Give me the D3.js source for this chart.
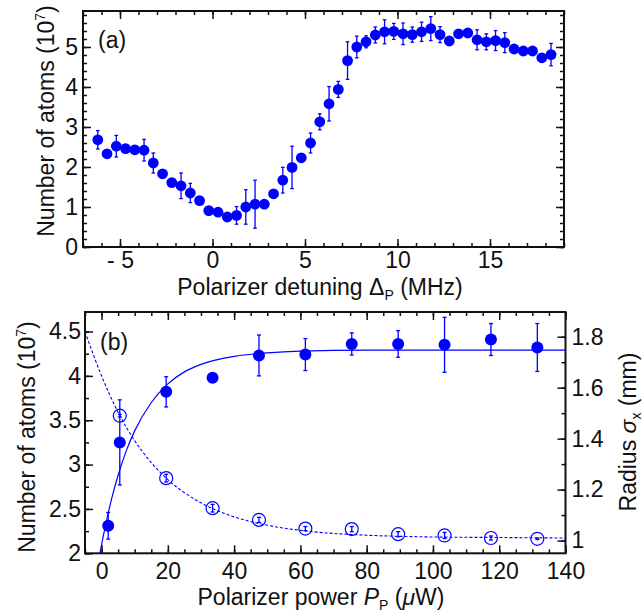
<!DOCTYPE html>
<html>
<head>
<meta charset="UTF-8">
<title></title>
<style>
    body { margin: 0; background: #fff; }
    svg { font-family: "Liberation Sans", Arial, sans-serif; }
    .ax text { font-size: 23px; fill: #111; }
    .ax path.domain { display: none; }
    .ax line { stroke: #111; stroke-width: 1.5; }
    .title { font-size: 23px; fill: #111; }
</style>
</head>
<body>
<svg id="chart" width="644" height="614"></svg>
<script src="https://cdn.jsdelivr.net/npm/d3@7"></script>
<script>

// panel (a): atom number vs polarizer detuning
let detuning = [-6.2, -5.7, -5.2, -4.7, -4.2, -3.7, -3.2, -2.7, -2.2, -1.7,
                -1.2, -0.7, -0.2, 0.3, 0.8, 1.3, 1.8, 2.3, 2.8, 3.3,
                3.8, 4.3, 4.8, 5.3, 5.8, 6.3, 6.8, 7.3, 7.8, 8.3,
                8.8, 9.3, 9.8, 10.3, 10.8, 11.3, 11.8, 12.3, 12.8, 13.3,
                13.8, 14.3, 14.8, 15.3, 15.8, 16.3, 16.8, 17.3, 17.8, 18.3];
let atomsA = [2.68, 2.33, 2.52, 2.46, 2.43, 2.42, 2.10, 1.83, 1.61, 1.53,
              1.35, 1.16, 0.91, 0.87, 0.75, 0.79, 1.00, 1.07, 1.07, 1.33,
              1.67, 1.99, 2.23, 2.60, 3.13, 3.58, 3.94, 4.66, 5.00, 5.13,
              5.30, 5.38, 5.39, 5.33, 5.31, 5.38, 5.46, 5.31, 5.15, 5.33,
              5.35, 5.18, 5.13, 5.16, 5.11, 4.95, 4.90, 4.90, 4.73, 4.81];
let errA = [0.23, 0.05, 0.27, 0.10, 0.10, 0.27, 0.25, 0.05, 0.05, 0.32,
            0.24, 0.05, 0.05, 0.05, 0.05, 0.22, 0.43, 0.60, 0.10, 0.05,
            0.32, 0.53, 0.05, 0.25, 0.20, 0.43, 0.20, 0.47, 0.27, 0.15,
            0.20, 0.30, 0.20, 0.27, 0.19, 0.24, 0.30, 0.20, 0.05, 0.05,
            0.10, 0.25, 0.20, 0.25, 0.25, 0.05, 0.05, 0.05, 0.05, 0.28];

// panel (b): atom number (filled) and radius (open) vs polarizer power
let power = [2, 5.5, 19.5, 33.5, 47.5, 61.5, 75.5, 89.5, 103.5, 117.5, 131.5];
let atomsB = [2.31, 3.25, 3.82, 3.98, 4.23, 4.24, 4.36, 4.36, 4.35, 4.41, 4.32];
let errB = [0.15, 0.48, 0.17, 0, 0.23, 0.18, 0.125, 0.15, 0.31, 0.18, 0.27];
let powerR = [5.5, 19.5, 33.5, 47.5, 61.5, 75.5, 89.5, 103.5, 117.5, 131.5];
let radius = [1.49, 1.245, 1.127, 1.081, 1.047, 1.045, 1.025, 1.02, 1.01, 1.007];
let errR = [0.005, 0.015, 0.015, 0.01, 0.008, 0.01, 0.01, 0.012, 0.008, 0.003];

// fit curves
let fitNP = [-0.5, 1, 3, 5, 7.5, 10, 15, 20, 25, 30, 40, 50, 60, 80, 100, 140];
let fitN = [2.0, 2.28, 2.61, 2.88, 3.16, 3.38, 3.70, 3.91, 4.045, 4.13, 4.22, 4.26, 4.28, 4.29, 4.29, 4.29];
let fitRP = [-5, 0, 5, 10, 15, 20, 25, 30, 40, 50, 60, 70, 80, 100, 120, 140];
let fitR = [1.82, 1.646, 1.503, 1.392, 1.306, 1.239, 1.188, 1.148, 1.093, 1.06, 1.04, 1.028, 1.021, 1.014, 1.012, 1.01];

let blue = "#0000ff";
let fmt = d3.format("~g");
let svg = d3.select("#chart");

// draw ticks pointing inwards on all four sides
function frame(g, x, y, xMaj, xMin, yMaj, yMin, opt) {
    let w = x.range()[1] - x.range()[0];
    let h = y.range()[0] - y.range()[1];
    let big = 8, small = 4;

    g.append("g").attr("class", "ax").attr("transform", "translate(0," + h + ")")
        .call(d3.axisBottom(x).tickValues(xMin).tickSize(-small).tickFormat(""));
    g.append("g").attr("class", "ax").attr("transform", "translate(0," + h + ")")
        .call(d3.axisBottom(x).tickValues(xMaj).tickSize(-big).tickPadding(opt.xPad).tickFormat(opt.xFmt || fmt));
    g.append("g").attr("class", "ax")
        .call(d3.axisTop(x).tickValues(xMin).tickSize(-small).tickFormat(""));
    g.append("g").attr("class", "ax")
        .call(d3.axisTop(x).tickValues(xMaj).tickSize(-big).tickFormat(""));

    g.append("g").attr("class", "ax")
        .call(d3.axisLeft(y).tickValues(yMin).tickSize(-small).tickFormat(""));
    g.append("g").attr("class", "ax")
        .call(d3.axisLeft(y).tickValues(yMaj).tickSize(-big).tickPadding(opt.yPad).tickFormat(fmt));

    g.append("rect")
        .attr("width", w).attr("height", h)
        .attr("fill", "none").attr("stroke", "#111").attr("stroke-width", 2);
}

function errorBars(g, xs, ys, es, x, y, cap) {
    let idx = d3.range(xs.length).filter(i => es[i] > 0);
    let eb = g.append("g").attr("stroke", blue).attr("stroke-width", 1.3);
    eb.selectAll(".v").data(idx).enter().append("line")
        .attr("x1", i => x(xs[i])).attr("x2", i => x(xs[i]))
        .attr("y1", i => y(ys[i] - es[i])).attr("y2", i => y(ys[i] + es[i]));
    eb.selectAll(".t").data(idx).enter().append("line")
        .attr("x1", i => x(xs[i]) - cap).attr("x2", i => x(xs[i]) + cap)
        .attr("y1", i => y(ys[i] + es[i])).attr("y2", i => y(ys[i] + es[i]));
    eb.selectAll(".b").data(idx).enter().append("line")
        .attr("x1", i => x(xs[i]) - cap).attr("x2", i => x(xs[i]) + cap)
        .attr("y1", i => y(ys[i] - es[i])).attr("y2", i => y(ys[i] - es[i]));
}

// ---------- panel (a) ----------
let a = {left: 83, top: 11, right: 564, bottom: 247};
let xa = d3.scaleLinear().domain([-7, 19]).range([0, a.right - a.left]);
let ya = d3.scaleLinear().domain([0, 5.9]).range([a.bottom - a.top, 0]);
let ga = svg.append("g").attr("transform", "translate(" + a.left + "," + a.top + ")");

frame(ga, xa, ya, [-5, 0, 5, 10, 15], d3.range(-7, 19.5, 1),
      [0, 1, 2, 3, 4, 5], d3.range(0, 5.85, 0.2),
      {xPad: 5, yPad: 5, xFmt: d => d < 0 ? "- " + (-d) : d});
// right side ticks for (a)
ga.append("g").attr("class", "ax").attr("transform", "translate(" + xa.range()[1] + ",0)")
    .call(d3.axisRight(ya).tickValues(d3.range(0, 5.85, 0.2)).tickSize(-4).tickFormat(""));
ga.append("g").attr("class", "ax").attr("transform", "translate(" + xa.range()[1] + ",0)")
    .call(d3.axisRight(ya).tickValues([0, 1, 2, 3, 4, 5]).tickSize(-8).tickFormat(""));

errorBars(ga, detuning, atomsA, errA, xa, ya, 1.8);
ga.selectAll(".dot").data(detuning).enter().append("circle")
    .attr("cx", d => xa(d)).attr("cy", (d, i) => ya(atomsA[i]))
    .attr("r", 5.4).attr("fill", blue);

ga.append("text").attr("class", "title").attr("x", 15).attr("y", 37).text("(a)");

svg.append("text").attr("class", "title").attr("text-anchor", "middle")
    .attr("x", 320).attr("y", 295)
    .call(t => {
        t.append("tspan").text("Polarizer detuning \u0394");
        t.append("tspan").attr("dy", 5).style("font-size", "14px").text("P");
        t.append("tspan").attr("dy", -5).text(" (MHz)");
    });
svg.append("text").attr("class", "title").attr("text-anchor", "middle")
    .attr("transform", "translate(54,121) rotate(-90)")
    .call(t => {
        t.append("tspan").text("Number of atoms (10");
        t.append("tspan").attr("dy", -9).style("font-size", "14px").text("7");
        t.append("tspan").attr("dy", 9).text(")");
    });

// ---------- panel (b) ----------
let b = {left: 85, top: 312, right: 565.5, bottom: 553.3};
let xb = d3.scaleLinear().domain([-5, 140]).range([0, b.right - b.left]);
let yb = d3.scaleLinear().domain([2, 4.72]).range([b.bottom - b.top, 0]);
let yr = d3.scaleLinear().domain([0.95, 1.897]).range([b.bottom - b.top, 0]);
let gb = svg.append("g").attr("transform", "translate(" + b.left + "," + b.top + ")");

frame(gb, xb, yb, d3.range(0, 141, 20), d3.range(-5, 141, 5),
      [2, 2.5, 3, 3.5, 4, 4.5], d3.range(2, 4.75, 0.25),
      {xPad: 9, yPad: 4});
gb.append("g").attr("class", "ax").attr("transform", "translate(" + xb.range()[1] + ",0)")
    .call(d3.axisRight(yr).tickValues(d3.range(1, 1.89, 0.1)).tickSize(-4).tickFormat(""));
gb.append("g").attr("class", "ax").attr("transform", "translate(" + xb.range()[1] + ",0)")
    .call(d3.axisRight(yr).tickValues([1, 1.2, 1.4, 1.6, 1.8]).tickSize(-8).tickPadding(6).tickFormat(fmt));

gb.append("clipPath").attr("id", "clipb").append("rect")
    .attr("width", xb.range()[1]).attr("height", yb.range()[0]);

let lineN = d3.line().curve(d3.curveMonotoneX)
    .x((d, i) => xb(d)).y((d, i) => yb(fitN[i]));
let lineR = d3.line().curve(d3.curveMonotoneX)
    .x((d, i) => xb(d)).y((d, i) => yr(fitR[i]));

gb.append("path").datum(fitNP).attr("d", lineN).attr("clip-path", "url(#clipb)")
    .attr("fill", "none").attr("stroke", blue).attr("stroke-width", 1.2);
gb.append("path").datum(fitRP).attr("d", lineR).attr("clip-path", "url(#clipb)")
    .attr("fill", "none").attr("stroke", blue).attr("stroke-width", 1.1)
    .attr("stroke-dasharray", "3,2");

errorBars(gb, power, atomsB, errB, xb, yb, 2);
errorBars(gb, powerR, radius, errR, xb, yr, 2);

gb.selectAll(".dot").data(power).enter().append("circle")
    .attr("cx", d => xb(d)).attr("cy", (d, i) => yb(atomsB[i]))
    .attr("r", 6).attr("fill", blue);
gb.selectAll(".ring").data(powerR).enter().append("circle")
    .attr("cx", d => xb(d)).attr("cy", (d, i) => yr(radius[i]))
    .attr("r", 6.5).attr("fill", "none").attr("stroke", blue).attr("stroke-width", 1.2);

gb.append("text").attr("class", "title").attr("x", 15).attr("y", 38).text("(b)");

svg.append("text").attr("class", "title").attr("text-anchor", "middle")
    .attr("x", 321).attr("y", 605)
    .call(t => {
        t.append("tspan").text("Polarizer power ");
        t.append("tspan").style("font-style", "italic").text("P");
        t.append("tspan").attr("dy", 5).style("font-size", "14px").text("P");
        t.append("tspan").attr("dy", -5).text(" (");
        t.append("tspan").style("font-style", "italic").text("\u03bc");
        t.append("tspan").text("W)");
    });
svg.append("text").attr("class", "title").attr("text-anchor", "middle")
    .attr("transform", "translate(35,437) rotate(-90)")
    .call(t => {
        t.append("tspan").text("Number of atoms (10");
        t.append("tspan").attr("dy", -9).style("font-size", "14px").text("7");
        t.append("tspan").attr("dy", 9).text(")");
    });
svg.append("text").attr("class", "title").attr("text-anchor", "middle")
    .attr("transform", "translate(636,432) rotate(-90)")
    .call(t => {
        t.append("tspan").text("Radius ");
        t.append("tspan").style("font-style", "italic").text("\u03c3");
        t.append("tspan").attr("dy", 5).style("font-size", "14px").text("x");
        t.append("tspan").attr("dy", -5).text(" (mm)");
    });

</script>
</body>
</html>
